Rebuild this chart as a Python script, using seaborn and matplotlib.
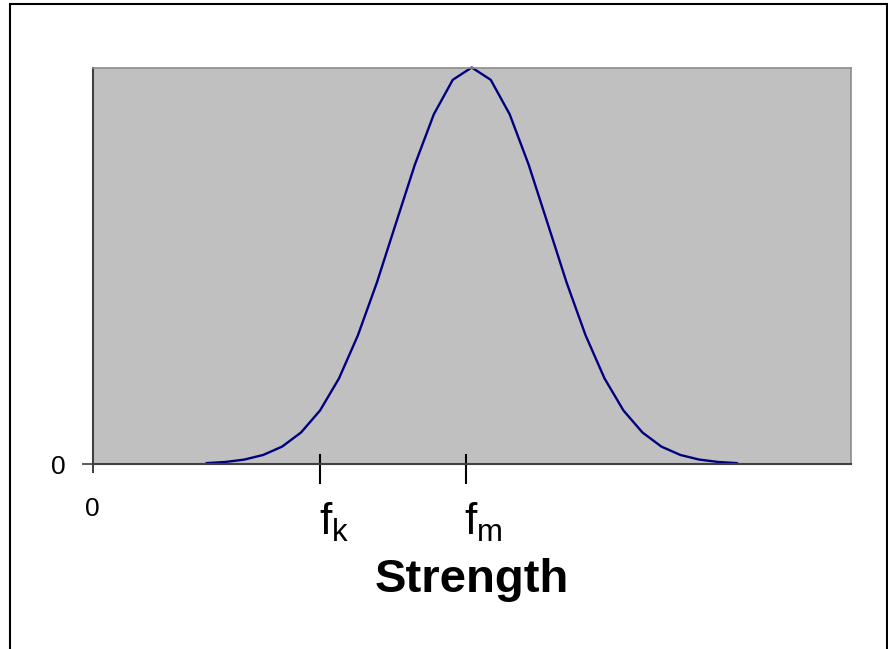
import matplotlib
matplotlib.use("Agg")
import matplotlib.pyplot as plt
from matplotlib.patches import Rectangle
import seaborn as sns
import pandas as pd

# Strength distribution (relative frequency, peak = 1)
strength = [15, 17.5, 20, 22.5, 25, 27.5, 30, 32.5, 35, 37.5, 40, 42.5, 45, 47.5,
            50, 52.5, 55, 57.5, 60, 62.5, 65, 67.5, 70, 72.5, 75, 77.5, 80, 82.5, 85]
frequency = [0.0022, 0.0051, 0.0111, 0.0228, 0.0439, 0.0796, 0.135, 0.216, 0.325,
             0.458, 0.607, 0.755, 0.882, 0.969, 1.0, 0.969, 0.882, 0.755, 0.607,
             0.458, 0.325, 0.216, 0.135, 0.0796, 0.0439, 0.0228, 0.0111, 0.0051, 0.0022]

# Marked strengths on the axis
f_k = 30.0
f_m = 49.2
marker_labels = [r"$\mathregular{f_k}$", r"$\mathregular{f_m}$"]
axis_label = "Strength"

sns.set_style("white")
plt.rcParams["font.family"] = ["Liberation Sans", "DejaVu Sans"]

W, H = 888, 649
fig = plt.figure(figsize=(W / 100, H / 100), dpi=100)
ax = fig.add_axes([92.5 / W, (H - 464) / H, (851 - 92.5) / W, (464 - 67.5) / H])
ax.set_facecolor("#C0C0C0")

df = pd.DataFrame({"strength": strength, "frequency": frequency})
sns.lineplot(data=df, x="strength", y="frequency", ax=ax, color="#000080",
             linewidth=1.7, clip_on=False)

ax.set_xlim(0, 100)
ax.set_ylim(0, 1)
ax.set_xlabel("")
ax.set_ylabel("")

for side in ("top", "right"):
    ax.spines[side].set_color("#8C8C8C")
    ax.spines[side].set_linewidth(1.2)
for side in ("left", "bottom"):
    ax.spines[side].set_color("#404040")
    ax.spines[side].set_linewidth(1.5)
    ax.spines[side].set_visible(True)

ax.set_xticks([0])
ax.set_xticklabels(["0"])
ax.set_yticks([0])
ax.set_yticklabels(["0"])
ax.tick_params(axis="x", direction="out", length=6.5, width=1.2, colors="#202020",
               labelsize=19, pad=17, bottom=True, labelcolor="black")
ax.tick_params(axis="y", direction="out", length=8, width=1.2, colors="#404040",
               labelsize=19, pad=11, left=True, labelcolor="black")

# Crossing tick marks at the marked strengths, with their labels
xt = ax.get_xaxis_transform()
for pos, lab in zip([f_k, f_m], marker_labels):
    ax.plot([pos, pos], [0.026, -0.05], transform=xt, color="black",
            linewidth=1.5, clip_on=False, solid_capstyle="butt")
    ax.text(pos - 0.2, -0.179, lab, transform=xt, ha="left", va="baseline",
            fontsize=32, color="black")

ax.text(0.5, -0.3228, axis_label, transform=ax.transAxes, ha="center",
        va="baseline", fontsize=34, fontweight="bold", color="black")

# Outer frame
fig.patches.append(Rectangle((10 / W, -0.1), (886.5 - 10) / W, 1.1 - 4.5 / H,
                             transform=fig.transFigure, fill=False,
                             edgecolor="black", linewidth=1.5))

fig.savefig("out.png", dpi=100)
